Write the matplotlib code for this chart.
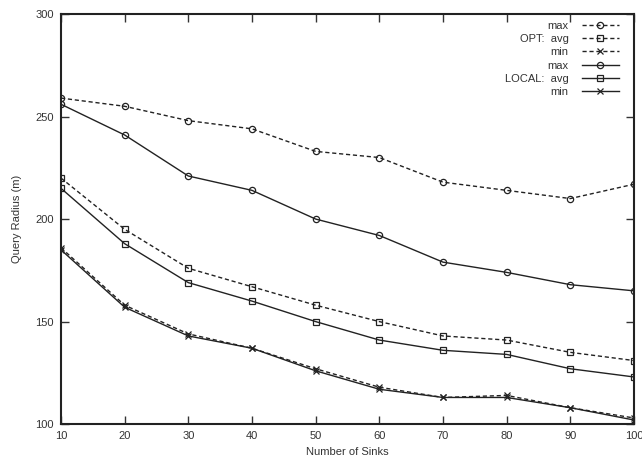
import matplotlib
matplotlib.use("Agg")
import matplotlib.pyplot as plt

plt.rcParams['font.family'] = ['Liberation Sans', 'DejaVu Sans']

sinks = [10, 20, 30, 40, 50, 60, 70, 80, 90, 100]

opt_max = [259, 255, 248, 244, 233, 230, 218, 214, 210, 217]
opt_avg = [220, 195, 176, 167, 158, 150, 143, 141, 135, 131]
opt_min = [186, 158, 144, 137, 127, 118, 113, 114, 108, 103]

local_max = [256, 241, 221, 214, 200, 192, 179, 174, 168, 165]
local_avg = [215, 188, 169, 160, 150, 141, 136, 134, 127, 123]
local_min = [185, 157, 143, 137, 126, 117, 113, 113, 108, 102]

labels = ['max', 'OPT:  avg', 'min', 'max', 'LOCAL:  avg', 'min']

fig = plt.figure(figsize=(6.42, 4.61), dpi=100)
ax = fig.add_axes([0.095, 0.080, 0.8925, 0.8896])

c = '#222222'
dash = (0, (3, 2))
ms = 4.5
ax.plot(sinks, opt_max, color=c, lw=1, ls=dash, marker='o', mfc='none', ms=ms, mew=0.9, label=labels[0])
ax.plot(sinks, opt_avg, color=c, lw=1, ls=dash, marker='s', mfc='none', ms=ms, mew=0.9, label=labels[1])
ax.plot(sinks, opt_min, color=c, lw=1, ls=dash, marker='x', ms=ms, mew=0.9, label=labels[2])
ax.plot(sinks, local_max, color=c, lw=1, ls='-', marker='o', mfc='none', ms=ms, mew=0.9, label=labels[3])
ax.plot(sinks, local_avg, color=c, lw=1, ls='-', marker='s', mfc='none', ms=ms, mew=0.9, label=labels[4])
ax.plot(sinks, local_min, color=c, lw=1, ls='-', marker='x', ms=ms, mew=0.9, label=labels[5])

ax.set_xlim(10, 100)
ax.set_ylim(100, 300)
ax.set_xticks(sinks)
ax.set_yticks([100, 150, 200, 250, 300])
ax.tick_params(direction='in', length=6, width=1, top=True, right=True, labelsize=8, pad=5, colors='#333333')
for s in ax.spines.values():
    s.set_linewidth(1.5)
    s.set_color('#222222')

ax.set_xlabel('Number of Sinks', fontsize=8, color='#333333', labelpad=4)
ax.set_ylabel('Query Radius (m)', fontsize=8, color='#333333', labelpad=10)

leg = ax.legend(loc='upper right', bbox_to_anchor=(0.985, 1.0), markerfirst=False, frameon=False,
                fontsize=8, labelspacing=0.3, handlelength=3.3, handletextpad=1.2,
                borderaxespad=0.2)
for col in leg._legend_handle_box.get_children():
    col.align = 'right'
for t in leg.get_texts():
    t.set_color('#333333')

fig.savefig('out.png', dpi=100)
